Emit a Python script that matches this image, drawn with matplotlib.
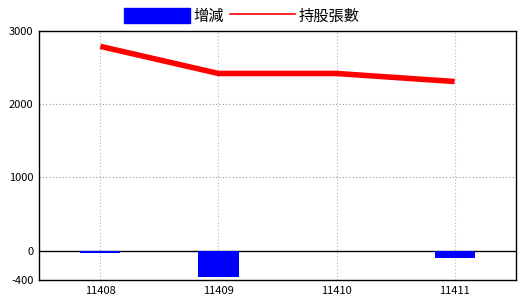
import matplotlib.pyplot as plt
from matplotlib.patches import Patch
from matplotlib.lines import Line2D

plt.rcParams['font.family'] = ['Noto Sans CJK TC', 'DejaVu Sans']

months = ['11408', '11409', '11410', '11411']
change = [-30, -360, 0, -100]
shares = [2790, 2420, 2420, 2310]
yticks = [-400, 0, 1000, 2000, 3000]

fig = plt.figure(figsize=(5.2, 3.0), dpi=100)
ax = fig.add_axes([39/520, 20/300, 477/520, 249/300])

x = range(len(months))
ax.bar(x, change, width=0.34, color='#0000ff', zorder=3)
ax.plot(x, shares, color='#ff0000', linewidth=4, solid_capstyle='butt', zorder=4)

ax.axhline(0, color='black', linewidth=1, zorder=2)
for ytk in [1000, 2000]:
    ax.axhline(ytk, color='#999999', linestyle=(0, (1, 2)), linewidth=0.8, zorder=1)
for xi in x:
    ax.axvline(xi, color='#a0bcd0', linestyle=(0, (1, 2)), linewidth=0.8, zorder=1)

ax.set_xlim(-0.52, 3.52)
ax.set_ylim(-400, 3000)
ax.set_xticks(list(x))
ax.set_xticklabels(months)
ax.set_yticks(yticks)
ax.set_yticklabels([str(v) for v in yticks])
ax.tick_params(length=0, labelsize=8, pad=4)
for s in ax.spines.values():
    s.set_linewidth(1)

handles = [Patch(color='#0000ff', label='增減'),
           Line2D([0], [0], color='#ff0000', linewidth=1.2, label='持股張數')]
fig.legend(handles=handles, loc='upper center', bbox_to_anchor=(0.465, 1.02), ncol=2,
           frameon=False, fontsize=11, handlelength=4.3, handleheight=1.2,
           handletextpad=0.2, columnspacing=0.4)

fig.savefig('out.png', dpi=100)
